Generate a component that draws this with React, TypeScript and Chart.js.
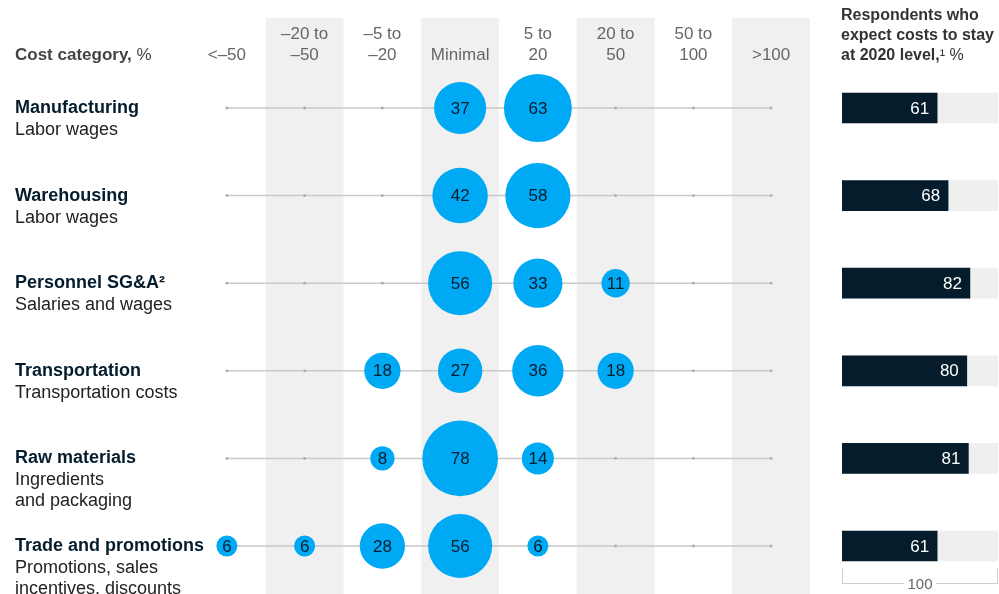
import React, { useEffect, useRef } from "react";
import { Chart, registerables } from "chart.js";

Chart.register(...registerables);

const COLUMN_HEADERS: string[][] = [
  ["<–50"],
  ["–20 to", "–50"],
  ["–5 to", "–20"],
  ["Minimal"],
  ["5 to", "20"],
  ["20 to", "50"],
  ["50 to", "100"],
  [">100"],
];

const ROW_TITLES: string[] = [
  "Manufacturing",
  "Warehousing",
  "Personnel SG&A²",
  "Transportation",
  "Raw materials",
  "Trade and promotions",
];

const ROW_SUBTITLES: string[][] = [
  ["Labor wages"],
  ["Labor wages"],
  ["Salaries and wages"],
  ["Transportation costs"],
  ["Ingredients", "and packaging"],
  ["Promotions, sales", "incentives, discounts"],
];

// share of respondents per expected cost change column (null = no bubble)
const MANUFACTURING = [null, null, null, 37, 63, null, null, null];
const WAREHOUSING = [null, null, null, 42, 58, null, null, null];
const PERSONNEL = [null, null, null, 56, 33, 11, null, null];
const TRANSPORTATION = [null, null, 18, 27, 36, 18, null, null];
const RAW_MATERIALS = [null, null, 8, 78, 14, null, null, null];
const TRADE = [6, 6, 28, 56, 6, null, null, null];

const ROWS: (number | null)[][] = [
  MANUFACTURING,
  WAREHOUSING,
  PERSONNEL,
  TRANSPORTATION,
  RAW_MATERIALS,
  TRADE,
];

const STAY_AT_2020: number[] = [61, 68, 82, 80, 81, 61];
const STAY_MAX = 100;

const BLUE = "#00A9F4";
const NAVY = "#051C2C";
const FONT = "'Liberation Sans', Arial, sans-serif";

export default function App() {
  const leftRef = useRef<HTMLCanvasElement>(null);
  const rightRef = useRef<HTMLCanvasElement>(null);

  useEffect(() => {
    const bubbleData: any[] = [];
    ROWS.forEach((row, r) => {
      row.forEach((v, c) => {
        if (v != null) bubbleData.push({ x: c, y: r, r: 4.28 * Math.sqrt(v), v });
      });
    });

    const lineSets = ROWS.map((row, r) => ({
      type: "line" as const,
      data: COLUMN_HEADERS.map((_, c) => ({ x: c, y: r })),
      borderColor: "#c9c9c9",
      borderWidth: 1.5,
      pointRadius: 1.4,
      pointBackgroundColor: "#aaaaaa",
      pointBorderWidth: 0,
      order: 2,
      clip: false as any,
    }));

    const leftPlugin = {
      id: "leftDecor",
      beforeDatasetsDraw(chart: any) {
        const { ctx } = chart;
        const xs = chart.scales.x;
        ctx.save();
        ctx.fillStyle = "#f0f0f0";
        [1, 3, 5, 7].forEach((c) => {
          const a = xs.getPixelForValue(c - 0.5);
          const b = xs.getPixelForValue(c + 0.5);
          ctx.fillRect(a, 18, b - a, chart.height - 18);
        });
        ctx.restore();
      },
      afterDatasetsDraw(chart: any) {
        const { ctx } = chart;
        const xs = chart.scales.x;
        const ys = chart.scales.y;
        ctx.save();
        // bubble labels
        const meta = chart.getDatasetMeta(0);
        ctx.fillStyle = NAVY;
        ctx.font = `17px ${FONT}`;
        ctx.textAlign = "center";
        ctx.textBaseline = "middle";
        meta.data.forEach((el: any, i: number) => {
          ctx.fillText(String(bubbleData[i].v), el.x, el.y + 1);
        });
        // column headers
        ctx.fillStyle = "#666666";
        ctx.font = `17px ${FONT}`;
        COLUMN_HEADERS.forEach((lines, c) => {
          const x = xs.getPixelForValue(c);
          lines.forEach((ln, k) => {
            const y = 55 - (lines.length - 1 - k) * 21;
            ctx.fillText(ln, x, y);
          });
        });
        // axis title
        ctx.textAlign = "left";
        ctx.fillStyle = "#444444";
        ctx.font = `bold 17px ${FONT}`;
        const t1 = "Cost category,";
        ctx.fillText(t1, 15, 55);
        const w1 = ctx.measureText(t1).width;
        ctx.font = `17px ${FONT}`;
        ctx.fillText(" %", 15 + w1, 55);
        // row labels
        ROW_TITLES.forEach((title, r) => {
          const y = ys.getPixelForValue(r);
          ctx.fillStyle = "#051C2C";
          ctx.font = `bold 18px ${FONT}`;
          ctx.fillText(title, 15, y);
          ctx.fillStyle = "#222222";
          ctx.font = `18px ${FONT}`;
          ROW_SUBTITLES[r].forEach((s, k) => {
            ctx.fillText(s, 15, y + 22 + k * 21);
          });
        });
        ctx.restore();
      },
    };

    const left = new Chart(leftRef.current!, {
      type: "bubble",
      data: {
        datasets: [
          {
            type: "bubble",
            data: bubbleData,
            backgroundColor: BLUE,
            borderWidth: 0,
            order: 0,
            clip: false as any,
          } as any,
          ...lineSets,
        ],
      },
      options: {
        responsive: false,
        animation: false,
        events: [],
        layout: { autoPadding: false, padding: { left: 188, right: 20, top: 64.2, bottom: 4.2 } },
        plugins: { legend: { display: false }, tooltip: { enabled: false } },
        scales: {
          x: { type: "linear", min: -0.5, max: 7.5, display: false },
          y: { type: "linear", min: -0.5, max: 5.5, reverse: true, display: false },
        },
      },
      plugins: [leftPlugin],
    } as any);

    const rightPlugin = {
      id: "rightDecor",
      afterDatasetsDraw(chart: any) {
        const { ctx } = chart;
        const xs = chart.scales.x;
        ctx.save();
        // bar values
        const meta = chart.getDatasetMeta(0);
        ctx.fillStyle = "#ffffff";
        ctx.font = `17px ${FONT}`;
        ctx.textAlign = "right";
        ctx.textBaseline = "middle";
        meta.data.forEach((el: any, i: number) => {
          ctx.fillText(String(STAY_AT_2020[i]), el.x - 8, el.y + 1);
        });
        // header
        ctx.textAlign = "left";
        ctx.fillStyle = "#333333";
        ctx.font = `bold 16px ${FONT}`;
        const hx = 11;
        ctx.fillText("Respondents who", hx, 16);
        ctx.fillText("expect costs to stay", hx, 36);
        const t = "at 2020 level,";
        ctx.fillText(t, hx, 56);
        const w = ctx.measureText(t).width;
        ctx.font = `16px ${FONT}`;
        ctx.fillText("¹ %", hx + w, 56);
        // bracket axis
        const x0 = xs.getPixelForValue(0);
        const x1 = xs.getPixelForValue(STAY_MAX);
        const y = 583.5;
        ctx.font = `15px ${FONT}`;
        ctx.textAlign = "center";
        const label = String(STAY_MAX);
        const mid = (x0 + x1) / 2;
        const tw = ctx.measureText(label).width;
        ctx.strokeStyle = "#cccccc";
        ctx.lineWidth = 1;
        ctx.beginPath();
        ctx.moveTo(x0 + 0.5, 568);
        ctx.lineTo(x0 + 0.5, y);
        ctx.lineTo(mid - tw / 2 - 4, y);
        ctx.moveTo(mid + tw / 2 + 4, y);
        ctx.lineTo(x1 - 0.5, y);
        ctx.lineTo(x1 - 0.5, 568);
        ctx.stroke();
        ctx.fillStyle = "#666666";
        ctx.fillText(label, mid, y + 1);
        ctx.restore();
      },
    };

    const right = new Chart(rightRef.current!, {
      type: "bar",
      data: {
        labels: ROW_TITLES,
        datasets: [
          {
            data: STAY_AT_2020,
            backgroundColor: NAVY,
            barThickness: 30,
            grouped: false,
            order: 0,
          } as any,
          {
            data: STAY_AT_2020.map(() => STAY_MAX),
            backgroundColor: "#efefef",
            barThickness: 30,
            grouped: false,
            order: 1,
          } as any,
        ],
      },
      options: {
        indexAxis: "y",
        responsive: false,
        animation: false,
        events: [],
        layout: { autoPadding: false, padding: { left: 12, right: 1, top: 64.2, bottom: 4.2 } },
        plugins: { legend: { display: false }, tooltip: { enabled: false } },
        scales: {
          x: { min: 0, max: STAY_MAX, display: false },
          y: { display: false },
        },
      },
      plugins: [rightPlugin],
    } as any);

    return () => {
      left.destroy();
      right.destroy();
    };
  }, []);

  return (
    <div style={{ position: "absolute", left: 0, top: 0, width: 999, height: 594, background: "#fff", overflow: "hidden" }}>
      <canvas ref={leftRef} width={830} height={594} style={{ position: "absolute", left: 0, top: 0 }} />
      <canvas ref={rightRef} width={169} height={594} style={{ position: "absolute", left: 830, top: 0 }} />
    </div>
  );
}
